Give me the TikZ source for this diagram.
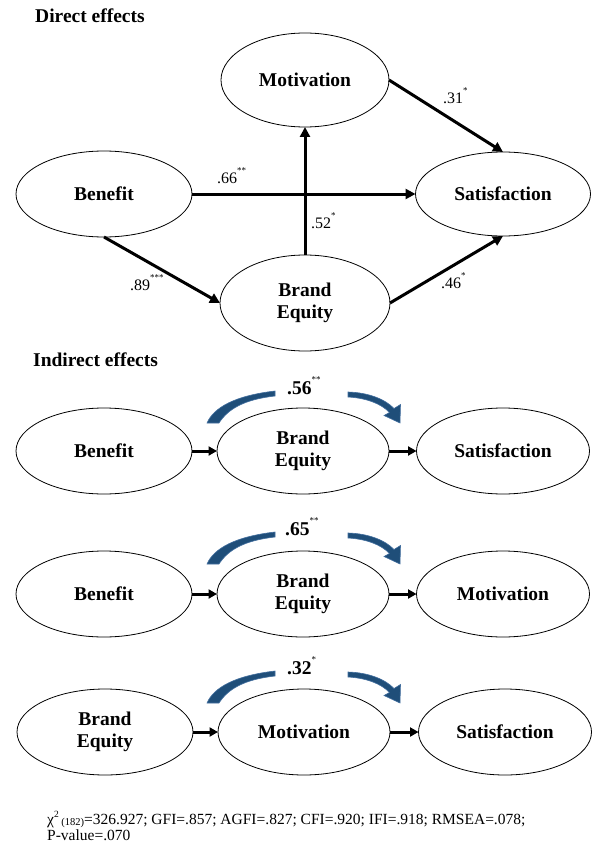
\documentclass[tikz,border=0pt]{standalone}
\usepackage{fontspec}
\setmainfont{Liberation Serif}
\usetikzlibrary{shapes.geometric,arrows.meta}
\definecolor{cblue}{RGB}{31,78,121}
\definecolor{cblueedge}{RGB}{66,110,158}
\newcommand\sig[1]{\raisebox{0.6em}{\fontsize{9}{9}\selectfont\mdseries #1}}
\newcommand\bluecurve[1]{%
  \begin{scope}[shift={(0,#1)}]
    \filldraw[fill=cblue,draw=cblueedge,line width=0.6pt]
      (207,36) .. controls (214,20) and (236,8.5) .. (275,4)
      -- (275,9) .. controls (244,12.5) and (228,22) .. (219,36) -- cycle;
    \filldraw[fill=cblue,draw=cblueedge,line width=0.6pt]
      (348,5) .. controls (368,5.5) and (385,12) .. (394,21.5)
      -- (400.5,17.5) -- (400,36) -- (384,28.5) -- (389.5,25.5)
      .. controls (381,16.5) and (366,11) .. (348,10) -- cycle;
  \end{scope}}
\begin{document}
\begin{tikzpicture}[x=1pt,y=-1pt,
  ell/.style={ellipse,draw,line width=0.8pt,inner sep=0pt,outer sep=0pt,
    font=\fontsize{19.5}{22.5}\selectfont\bfseries,align=center},
  arr/.style={line width=3pt,-{Triangle[length=10pt,width=10pt]}},
  sarr/.style={line width=3pt,-{Triangle[length=8.5pt,width=9pt]}},
  lab/.style={font=\fontsize{16}{16}\selectfont,inner sep=0pt,anchor=base west},
  ilab/.style={font=\fontsize{19.5}{19.5}\selectfont\bfseries,inner sep=0pt,anchor=base west},
  ttl/.style={font=\fontsize{19.5}{19.5}\selectfont\bfseries,anchor=base west,inner sep=0pt},
]
\useasboundingbox (0,0) rectangle (592,845);

% ---------- Direct effects ----------
\node[ttl] (t1) at (35,23) {Direct effects};
\node[ell,minimum width=168pt,minimum height=94pt] (mot) at (305,80) {Motivation};
\node[ell,minimum width=176pt,minimum height=86pt] (ben) at (104,194) {Benefit};
\node[ell,minimum width=175pt,minimum height=84pt] (sat) at (503,194) {Satisfaction};
\node[ell,minimum width=170pt,minimum height=96pt] (be) at (305,303) {Brand\\Equity};

\draw[arr] (ben.east) -- (sat.west);
\draw[arr] (be.north) -- (mot.south);
\draw[arr] (mot.east) -- (sat.north);
\draw[arr] (be.east) -- (sat.south);
\draw[arr] (ben.south) -- (be.west);

\node[lab] (l66) at (217,183.5) {.66\sig{**}};
\node[lab] (l52) at (311,228.5) {.52\sig{*}};
\node[lab] (l31) at (443,103.5) {.31\sig{*}};
\node[lab] (l46) at (441,288.5) {.46\sig{*}};
\node[lab] (l89) at (130,290.5) {.89\sig{***}};

% ---------- Indirect effects ----------
\node[ttl] (t2) at (33,366) {Indirect effects};

% row 1
\bluecurve{387}
\node[ilab] (i1) at (287,394) {.56\sig{**}};
\node[ell,minimum width=176pt,minimum height=86pt] (r1a) at (104,451) {Benefit};
\node[ell,minimum width=172pt,minimum height=86pt] (r1b) at (303,451) {Brand\\Equity};
\node[ell,minimum width=173pt,minimum height=86pt] (r1c) at (503,451) {Satisfaction};
\draw[sarr] (r1a.east) -- (r1b.west);
\draw[sarr] (r1b.east) -- (r1c.west);

% row 2
\bluecurve{528}
\node[ilab] (i2) at (285,535) {.65\sig{**}};
\node[ell,minimum width=176pt,minimum height=86pt] (r2a) at (104,594) {Benefit};
\node[ell,minimum width=172pt,minimum height=86pt] (r2b) at (303,594) {Brand\\Equity};
\node[ell,minimum width=173pt,minimum height=86pt] (r2c) at (503,594) {Motivation};
\draw[sarr] (r2a.east) -- (r2b.west);
\draw[sarr] (r2b.east) -- (r2c.west);

% row 3
\bluecurve{667}
\node[ilab] (i3) at (287,674) {.32\sig{*}};
\node[ell,minimum width=176pt,minimum height=86pt] (r3a) at (105,732) {Brand\\Equity};
\node[ell,minimum width=172pt,minimum height=86pt] (r3b) at (304,732) {Motivation};
\node[ell,minimum width=173pt,minimum height=86pt] (r3c) at (505,732) {Satisfaction};
\draw[sarr] (r3a.east) -- (r3b.west);
\draw[sarr] (r3b.east) -- (r3c.west);

% ---------- fit indices ----------
\node[anchor=base west,inner sep=0pt,align=left,font=\fontsize{15.5}{16}\selectfont] (fit) at (47,840)
  {χ\raisebox{0.45em}{\fontsize{9.5}{9.5}\selectfont 2}\,\raisebox{-0.1em}{\fontsize{10.5}{10.5}\selectfont(182)}=326.927; GFI=.857; AGFI=.827; CFI=.920; IFI=.918; RMSEA=.078;\\P-value=.070};
\end{tikzpicture}
\end{document}
